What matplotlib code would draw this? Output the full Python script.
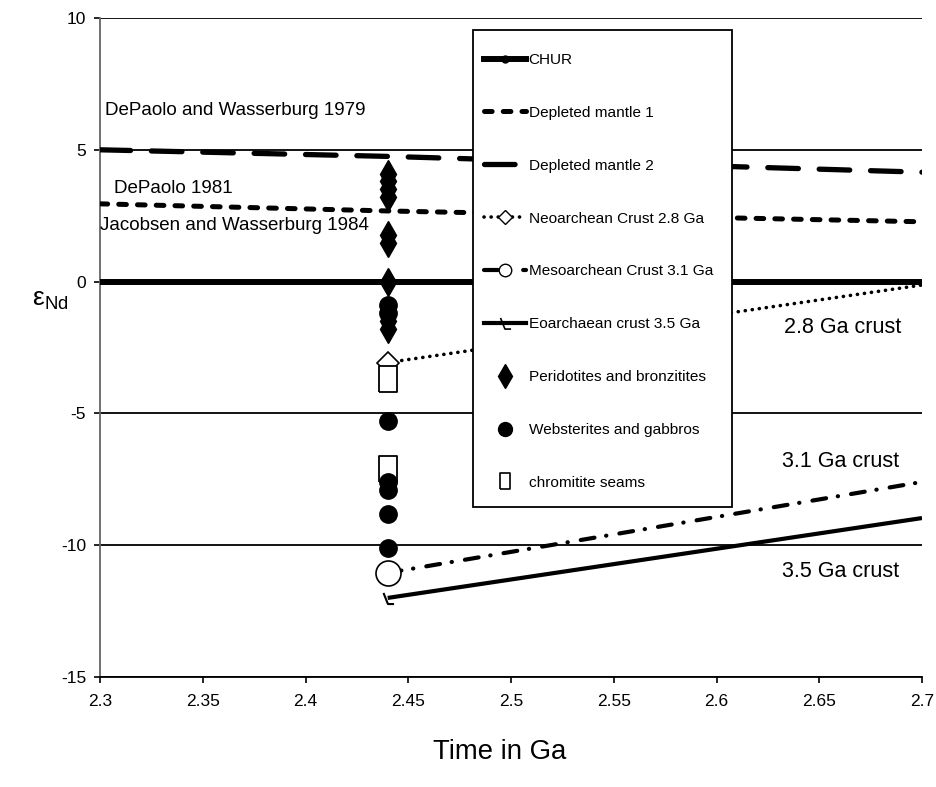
import numpy as np
import matplotlib
matplotlib.use("Agg")
import matplotlib.pyplot as plt
from matplotlib.lines import Line2D
from matplotlib.patches import Rectangle
from matplotlib.path import Path
from matplotlib.ticker import FuncFormatter, MultipleLocator

plt.rcParams['font.family'] = ['Liberation Sans', 'DejaVu Sans']
plt.rcParams['axes.unicode_minus'] = False
plt.rcParams['lines.scale_dashes'] = False
plt.rcParams['mathtext.default'] = 'regular'

# model curves (age in Ga, eNd)
chur_t = [2.3, 2.7]
chur_e = [0.0, 0.0]
dm1_t = [2.3, 2.44, 2.7]
dm1_e = [2.95, 2.68, 2.27]
dm2_t = [2.3, 2.44, 2.7]
dm2_e = [5.0, 4.75, 4.15]
neo_t = [2.44, 2.7]
neo_e = [-3.07, -0.13]
meso_t = [2.44, 2.7]
meso_e = [-11.05, -7.6]
eo_t = [2.44, 2.7]
eo_e = [-12.0, -8.97]

# samples, all at 2.44 Ga
sample_age = 2.44
perid_e = [4.1, 3.8, 3.5, 3.2, 1.75, 1.45, 0.0, -1.5, -1.8]
webst_e = [-0.9, -1.2, -5.3, -7.6, -7.9, -8.8, -10.1]
chrom_e = [-3.7, -7.1]

legend_labels = ['CHUR', 'Depleted mantle 1', 'Depleted mantle 2',
                 'Neoarchean Crust 2.8 Ga', 'Mesoarchean Crust 3.1 Ga',
                 'Eoarchaean crust 3.5 Ga', 'Peridotites and bronzitites',
                 'Websterites and gabbros', 'chromitite seams']

# marker shapes
rect = [(-0.35, -0.5), (0.35, -0.5), (0.35, 0.5), (-0.35, 0.5), (-0.35, -0.5)]
hook = Path([(-0.45, 0.5), (-0.05, -0.5), (0.5, -0.5)],
            [Path.MOVETO, Path.LINETO, Path.LINETO])

dm1_dash = (5.5, 8)
dm2_dash = (22, 15)
neo_dash = (0.1, 5)
meso_dash = (10, 8.5, 0.2, 9.5)

fig = plt.figure(figsize=(9.36, 7.87), dpi=100)
ax = fig.add_axes([100/936, 1 - 677/787, 822/936, 659/787])

ax.plot(chur_t, chur_e, color='black', lw=4.3, solid_capstyle='butt', zorder=3)
ax.plot(dm1_t, dm1_e, color='black', lw=3.6, dashes=dm1_dash, dash_capstyle='round', zorder=3)
ax.plot(dm2_t, dm2_e, color='black', lw=3.8, dashes=dm2_dash, dash_capstyle='round', zorder=3)
ax.plot(neo_t, neo_e, color='black', lw=2.6, dashes=neo_dash, dash_capstyle='round',
        marker='D', ms=11, mfc='white', mec='black', mew=1.2, markevery=[0], zorder=3)
ax.plot(meso_t, meso_e, color='black', lw=3.0, dashes=meso_dash, dash_capstyle='round',
        marker='o', ms=18, mfc='white', mec='black', mew=1.2, markevery=[0], zorder=3)
ax.plot(eo_t, eo_e, color='black', lw=3.0, solid_capstyle='butt',
        marker=hook, ms=8, mfc='none', mec='black', mew=1.5, markevery=[0], zorder=3)

ax.plot([sample_age] * len(chrom_e), chrom_e, ls='none', marker=rect, ms=19,
        mfc='white', mec='black', mew=1.3, zorder=4)
ax.plot([sample_age] * len(webst_e), webst_e, ls='none', marker='o', ms=12.5,
        color='black', zorder=5)
ax.plot([sample_age] * len(perid_e), perid_e, ls='none', marker='d', ms=14,
        color='black', zorder=5)

ax.set_xlim(2.3, 2.7)
ax.set_ylim(-15, 10)
ax.xaxis.set_major_locator(MultipleLocator(0.05))
ax.yaxis.set_major_locator(MultipleLocator(5))
ax.xaxis.set_major_formatter(FuncFormatter(lambda v, p: '%g' % round(v, 2)))
ax.yaxis.grid(True, color='black', lw=1.3)
ax.set_axisbelow(True)
ax.spines['top'].set_visible(False)
ax.spines['right'].set_visible(False)
ax.spines['left'].set_color('#666666')
ax.spines['left'].set_linewidth(1.3)
ax.spines['bottom'].set_linewidth(1.3)
ax.tick_params(axis='both', direction='out', length=4, width=1.2, labelsize=12.5, pad=6)
ax.tick_params(axis='x', pad=8)

fig.text(500/936, 1 - 752/787, 'Time in Ga', fontsize=19.8, ha='center', va='center')
fig.text(50/936, 1 - 300/787, r'ε$_{Nd}$', fontsize=19, ha='center', va='center')

txt = dict(fontsize=13.5, va='center', ha='left', color='black')
ax.text(2.3025, 6.5, 'DePaolo and Wasserburg 1979', **txt)
ax.text(2.307, 3.55, 'DePaolo 1981', **txt)
ax.text(2.300, 2.12, 'Jacobsen and Wasserburg 1984', **txt)
crust = dict(txt, fontsize=15.5)
ax.text(2.633, -1.76, '2.8 Ga crust', **crust)
ax.text(2.632, -6.84, '3.1 Ga crust', **crust)
ax.text(2.632, -11.0, '3.5 Ga crust', **crust)

# legend box, drawn over the curves
ax.add_patch(Rectangle((473/936, 1 - 507/787), (732 - 473)/936, (507 - 30)/787,
                       transform=fig.transFigure, facecolor='white', edgecolor='black',
                       lw=1.3, clip_on=False, zorder=9))

handles = [
    Line2D([], [], color='black', lw=4.3, marker='o', ms=5),
    Line2D([], [], color='black', lw=3.6, dashes=dm1_dash, dash_capstyle='round'),
    Line2D([], [], color='black', lw=3.8, dashes=dm2_dash, dash_capstyle='round'),
    Line2D([], [], color='black', lw=2.6, dashes=neo_dash, dash_capstyle='round',
           marker='D', ms=7, mfc='white', mec='black'),
    Line2D([], [], color='black', lw=3.0, dashes=meso_dash, dash_capstyle='round',
           marker='o', ms=9, mfc='white', mec='black'),
    Line2D([], [], color='black', lw=3.0, marker=hook, ms=8, mfc='none', mec='black', mew=1.2),
    Line2D([], [], ls='none', color='black', marker='d', ms=12),
    Line2D([], [], ls='none', color='black', marker='o', ms=10),
    Line2D([], [], ls='none', marker=rect, ms=11, mfc='white', mec='black', mew=1.2),
]
leg = fig.legend(handles, legend_labels, loc='upper left',
                 bbox_to_anchor=(484/936, 1 - 53/787), bbox_transform=fig.transFigure,
                 fontsize=11.1, frameon=False, borderaxespad=0, borderpad=0,
                 handlelength=2.75, handletextpad=0.15, labelspacing=2.52)
leg.set_zorder(10)

fig.savefig('out.png', dpi=100)
